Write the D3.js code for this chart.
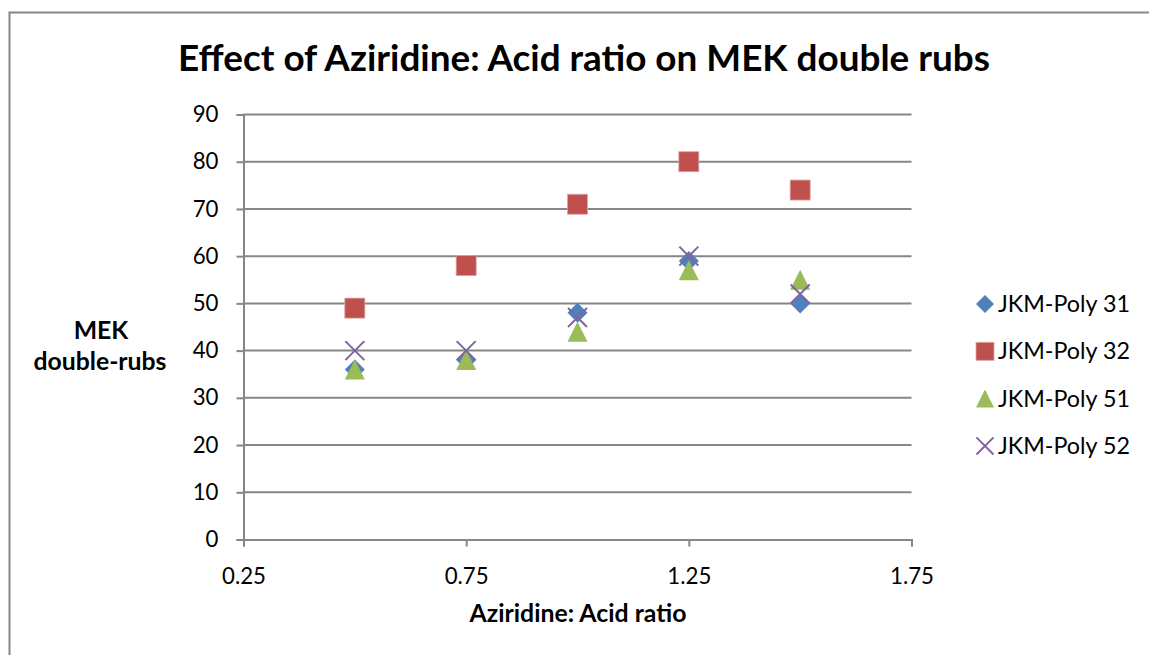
<!DOCTYPE html>
<html>
<head>
<meta charset="utf-8">
<script src="https://cdn.jsdelivr.net/npm/d3@7/dist/d3.min.js"></script>
<style>
  html, body { margin: 0; padding: 0; background: #fff; }
  svg { display: block; }
  text { font-family: Lato, "Open Sans", sans-serif; fill: #000; }
</style>
</head>
<body>
<svg id="chart" width="1149" height="655"></svg>
<script>
// Aziridine : acid ratio tested
const ratios = [0.5, 0.75, 1.0, 1.25, 1.5];

// MEK double-rub results per polymer
const poly31 = [36, 38, 48, 59, 50];
const poly32 = [49, 58, 71, 80, 74];
const poly51 = [36, 38, 44, 57, 55];
const poly52 = [40, 40, 47, 60, 52];

const seriesNames = ["JKM-Poly 31", "JKM-Poly 32", "JKM-Poly 51", "JKM-Poly 52"];
const xTicks = [0.25, 0.75, 1.25, 1.75];
const yTicks = [0, 10, 20, 30, 40, 50, 60, 70, 80, 90];

const seriesValues = [poly31, poly32, poly51, poly52];
const colors = ["#4F81BD", "#C0504D", "#9BBB59", "#8064A2"];
const shapes = ["diamond", "square", "triangle", "cross"];

const svg = d3.select("#chart");

// fit a text element to a target width by adjusting its font size
function fitWidth(sel, target) {
  const node = sel.node();
  const fs = parseFloat(sel.attr("font-size"));
  const w = node.getComputedTextLength();
  if (w > 0) sel.attr("font-size", (fs * target / w).toFixed(2));
  return parseFloat(sel.attr("font-size"));
}

// outer chart frame (runs off the right and bottom edges)
svg.append("rect")
  .attr("x", 9.5).attr("y", 12.5)
  .attr("width", 1200).attr("height", 700)
  .attr("fill", "#fff").attr("stroke", "#868686").attr("stroke-width", 2);

const plot = { left: 243.5, right: 911.5, top: 114.5, bottom: 539.5 };

const x = d3.scaleLinear().domain([0.25, 1.75]).range([plot.left, plot.right]);
const y = d3.scaleLinear().domain([0, 90]).range([plot.bottom, plot.top]);

// horizontal gridlines
svg.append("g")
  .selectAll("line")
  .data(yTicks.filter(d => d > 0))
  .join("line")
  .attr("x1", plot.left).attr("x2", plot.right)
  .attr("y1", d => y(d)).attr("y2", d => y(d))
  .attr("stroke", "#868686").attr("stroke-width", 2);

// y axis
const yAxis = svg.append("g")
  .attr("transform", `translate(${plot.left},0)`)
  .call(d3.axisLeft(y).tickValues(yTicks).tickSize(7).tickPadding(18).tickFormat(d3.format("d")));
yAxis.select(".domain").attr("stroke", "#868686").attr("stroke-width", 2);
yAxis.selectAll(".tick line").attr("stroke", "#868686").attr("stroke-width", 2);

// x axis
const xAxis = svg.append("g")
  .attr("transform", `translate(0,${plot.bottom})`)
  .call(d3.axisBottom(x).tickValues(xTicks).tickSize(7).tickPadding(22).tickFormat(d3.format(".2f")));
xAxis.select(".domain").attr("stroke", "#868686").attr("stroke-width", 2);
xAxis.selectAll(".tick line").attr("stroke", "#868686").attr("stroke-width", 2);

// tick label size: "0.25" spans about 44px
const xLabels = xAxis.selectAll(".tick text")
  .attr("font-family", "Lato, 'Open Sans', sans-serif")
  .attr("font-size", 20).attr("fill", "#000");
const tickFs = fitWidth(d3.select(xLabels.nodes()[0]), 44);
xLabels.attr("font-size", tickFs);
yAxis.selectAll(".tick text")
  .attr("font-family", "Lato, 'Open Sans', sans-serif")
  .attr("font-size", tickFs).attr("fill", "#000");

// marker drawing
function drawMarker(g, shape, color, cx, cy, s) {
  if (shape === "diamond") {
    g.append("path")
      .attr("d", `M${cx},${cy - s}L${cx + s},${cy}L${cx},${cy + s}L${cx - s},${cy}Z`)
      .attr("fill", color);
  } else if (shape === "square") {
    g.append("rect")
      .attr("x", cx - s).attr("y", cy - s).attr("width", 2 * s).attr("height", 2 * s)
      .attr("fill", color).attr("stroke", "#d9a6a4").attr("stroke-width", 0.8);
  } else if (shape === "triangle") {
    g.append("path")
      .attr("d", `M${cx},${cy - s}L${cx + s},${cy + s}L${cx - s},${cy + s}Z`)
      .attr("fill", color);
  } else {
    const c = s * 0.95;
    g.append("path")
      .attr("d", `M${cx - c},${cy - c}L${cx + c},${cy + c}M${cx + c},${cy - c}L${cx - c},${cy + c}`)
      .attr("stroke", color).attr("stroke-width", 2).attr("fill", "none");
  }
}

// series points
seriesValues.forEach((vals, i) => {
  const g = svg.append("g").attr("class", "series");
  vals.forEach((v, j) => drawMarker(g, shapes[i], colors[i], x(ratios[j]), y(v), 10));
});

// legend
const legend = svg.append("g");
let legendFs = null;
seriesNames.forEach((name, i) => {
  const cy = 304 + i * 47.3;
  drawMarker(legend, shapes[i], colors[i], 985, cy, 9);
  const t = legend.append("text")
    .attr("x", 998).attr("y", cy + 8)
    .attr("font-size", 20)
    .text(name);
  if (legendFs === null) legendFs = fitWidth(t, 132);
  t.attr("font-size", legendFs);
});

// title
const title = svg.append("text")
  .attr("x", 584).attr("y", 71)
  .attr("text-anchor", "middle")
  .attr("font-size", 32).attr("font-weight", "bold")
  .text("Effect of Aziridine: Acid ratio on MEK double rubs");
fitWidth(title, 812);

// x axis title
const xTitle = svg.append("text")
  .attr("x", 578).attr("y", 622)
  .attr("text-anchor", "middle")
  .attr("font-size", 18).attr("font-weight", "bold")
  .text("Aziridine: Acid ratio");
fitWidth(xTitle, 217);

// y axis title (two lines)
const yTitle1 = svg.append("text")
  .attr("x", 101).attr("y", 339)
  .attr("text-anchor", "middle")
  .attr("font-size", 18).attr("font-weight", "bold")
  .text("MEK");
const yTitle2 = svg.append("text")
  .attr("x", 100).attr("y", 370)
  .attr("text-anchor", "middle")
  .attr("font-size", 18).attr("font-weight", "bold")
  .text("double-rubs");
fitWidth(yTitle2, 133);
yTitle1.attr("font-size", yTitle2.attr("font-size"));
</script>
</body>
</html>
